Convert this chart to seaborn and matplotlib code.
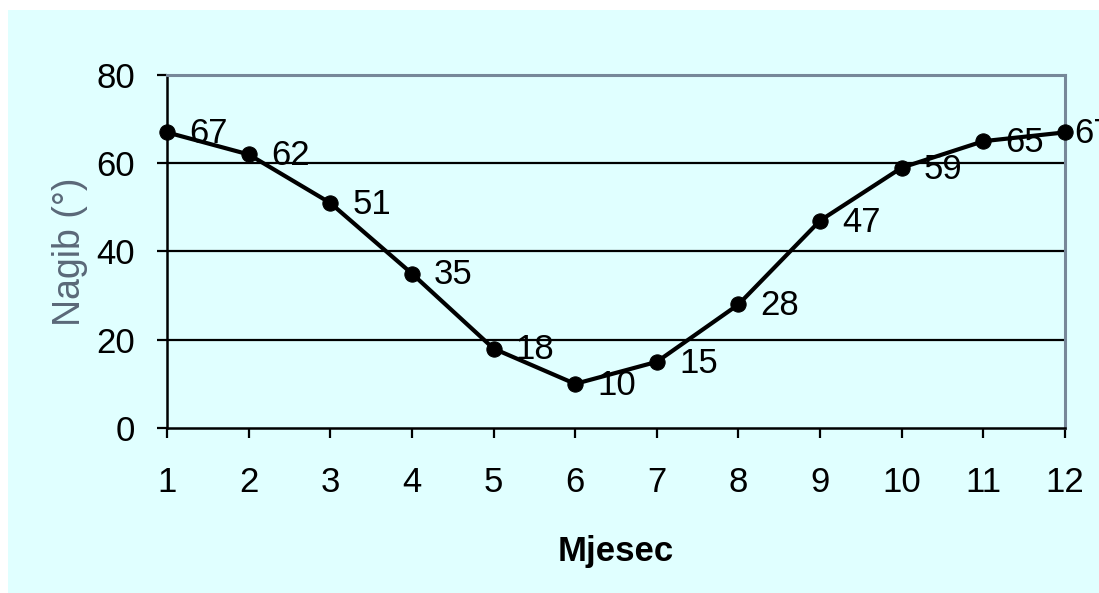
import matplotlib
matplotlib.use("Agg")
import matplotlib.pyplot as plt
import seaborn as sns
import pandas as pd
from matplotlib.patches import Rectangle

months = [1, 2, 3, 4, 5, 6, 7, 8, 9, 10, 11, 12]
nagib = [67, 62, 51, 35, 18, 10, 15, 28, 47, 59, 65, 67]
y_ticks = [0, 20, 40, 60, 80]

df = pd.DataFrame({"Mjesec": months, "Nagib": nagib})

sns.set_style("white")
plt.rcParams['font.family'] = ['Liberation Sans', 'DejaVu Sans']

bg = "#E0FFFF"
fig = plt.figure(figsize=(10.99, 5.93), dpi=100)
fig.patch.set_facecolor("white")
fig.patches.append(Rectangle((8 / 1099, 0), 1, 1 - 10 / 593, transform=fig.transFigure,
                             facecolor=bg, edgecolor="none", zorder=-10))

ax = fig.add_axes([167 / 1099, 1 - 428 / 593, (1065 - 167) / 1099, (428 - 75) / 593])
ax.set_facecolor(bg)

for v in [20, 40, 60]:
    ax.axhline(v, color="black", lw=1.6, zorder=1)

sns.lineplot(data=df, x="Mjesec", y="Nagib", ax=ax, color="black", lw=3,
             marker="o", markersize=11, markeredgecolor="black", zorder=3, clip_on=False)

for i, (m, v) in enumerate(zip(months, nagib)):
    dx = 7 if i == len(months) - 1 else 16
    ax.annotate(str(v), (m, v), xytext=(dx, -1), textcoords="offset points",
                ha="left", va="center", fontsize=25, color="black", clip_on=False,
                annotation_clip=False)

ax.set_xlim(1, 12)
ax.set_ylim(0, 80)
ax.set_xticks(months)
ax.set_yticks(y_ticks)
ax.tick_params(axis="both", direction="out", length=7, width=1.6, color="black",
               labelsize=25, labelcolor="black", left=True, bottom=True)
ax.tick_params(axis="x", pad=20)
ax.tick_params(axis="y", pad=16)

for s in ["left", "bottom"]:
    ax.spines[s].set_color("black")
    ax.spines[s].set_linewidth(1.8)
for s in ["top", "right"]:
    ax.spines[s].set_color("#778899")
    ax.spines[s].set_linewidth(2.2)
    ax.spines[s].set_visible(True)

ax.set_xlabel("Mjesec", fontsize=25, fontweight="bold", color="black", labelpad=26)
ax.set_ylabel("Nagib (°)", fontsize=27, color="#5A6878", labelpad=6)

fig.savefig("out.png", dpi=100, facecolor=fig.get_facecolor())
